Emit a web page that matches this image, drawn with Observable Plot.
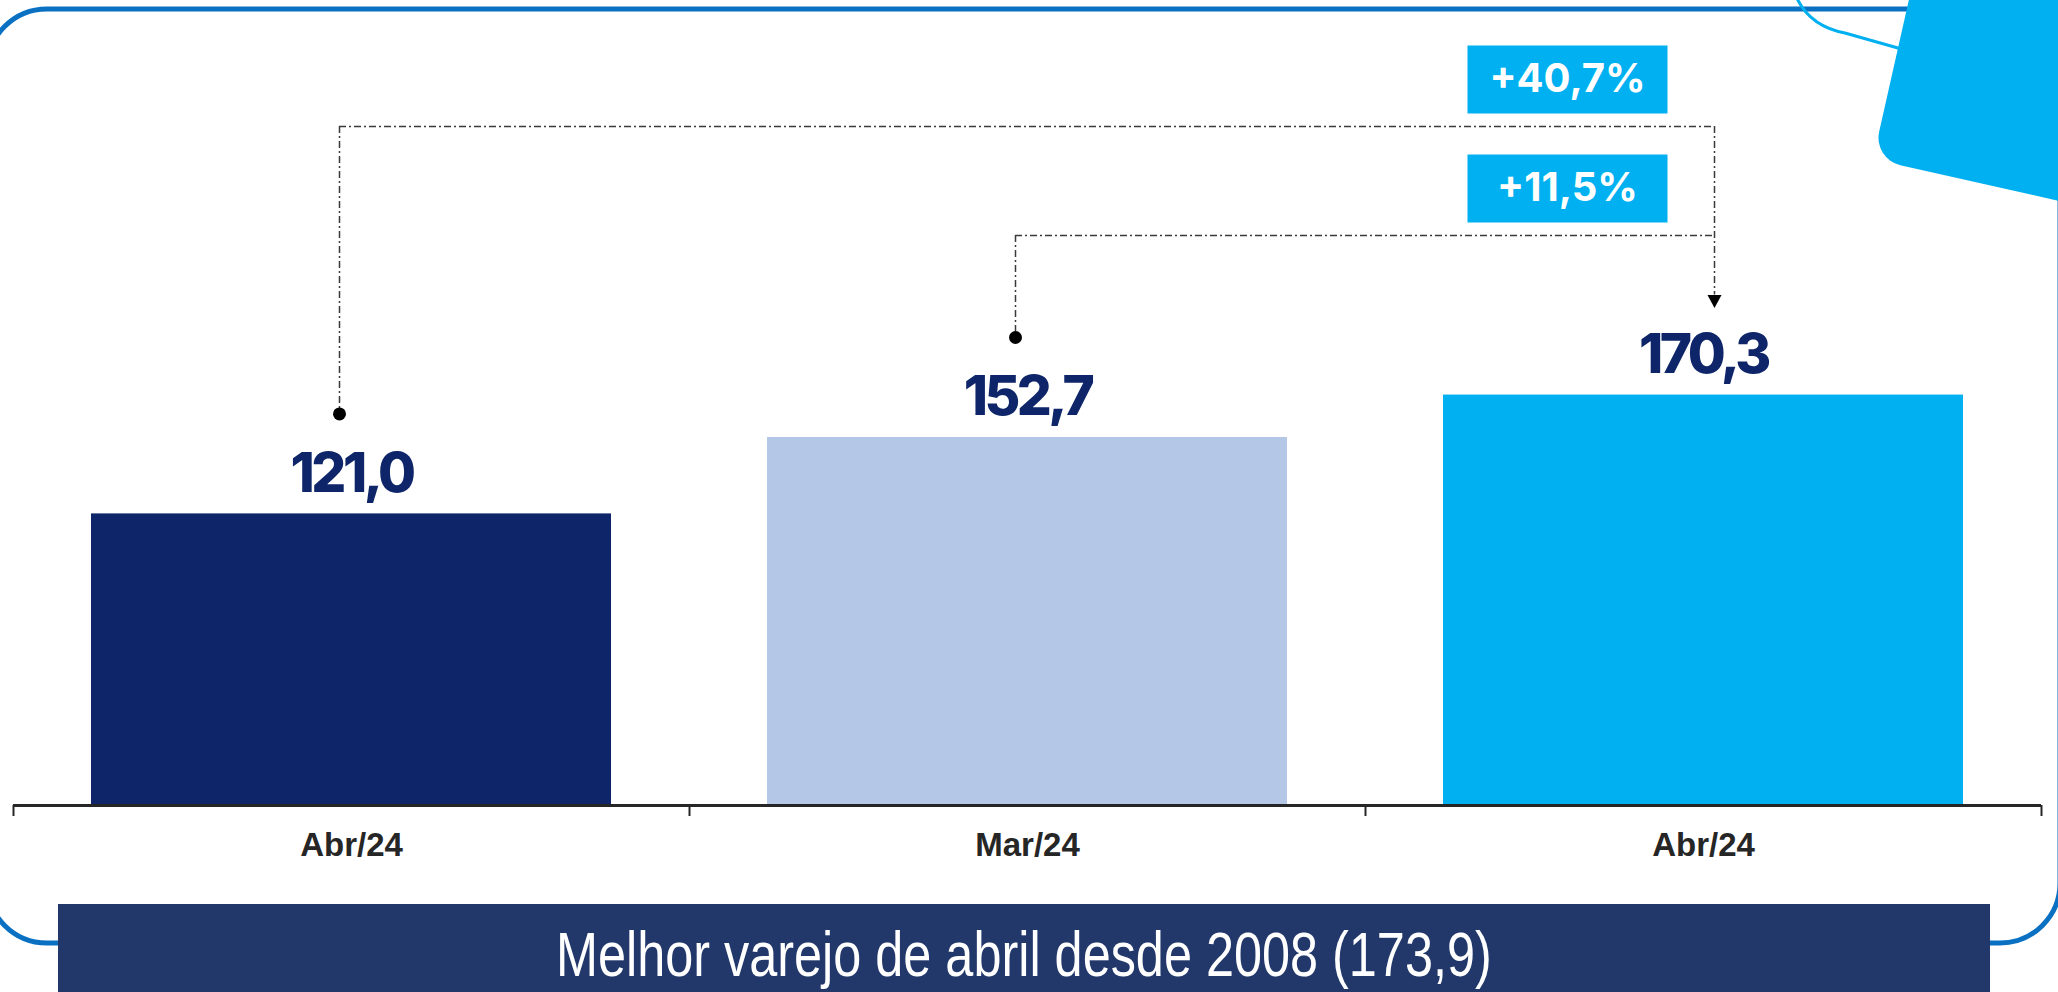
<!DOCTYPE html>
<html><head><meta charset="utf-8">
<script src="https://cdn.jsdelivr.net/npm/d3@7"></script>
<script src="https://cdn.jsdelivr.net/npm/@observablehq/plot@0.6"></script>
<style>
html,body{margin:0;padding:0;background:#fff;}
#page{position:relative;width:2058px;height:992px;overflow:hidden;}
#chart{position:absolute;left:0;top:0;}
#decor{position:absolute;left:0;top:0;pointer-events:none;}
#banner{position:absolute;left:58px;top:904px;width:1932px;height:100px;background:#22386a;color:#fff;
  font-family:"Liberation Sans Narrow","Arial Narrow","Liberation Sans",sans-serif;font-size:63px;
  text-align:center;line-height:88px;padding-top:6px;box-sizing:border-box;white-space:nowrap;}
#banner span{display:inline-block;transform:scaleX(0.8);transform-origin:50% 50%;}
</style></head>
<body>
<div id="page">
  <div id="chart"></div>
  <svg id="decor" width="2058" height="992">
    <rect x="-13" y="9" width="2073" height="934" rx="60" ry="60" fill="none" stroke="#0a70c2" stroke-width="5"/>
    <path d="M1795,-6 Q1808,26 1845,33 L1905,50" fill="none" stroke="#00b0f0" stroke-width="3"/>
    <g transform="translate(1873,159) rotate(12.7)">
      <rect x="0" y="-420" width="420" height="420" rx="28" ry="28" fill="#00b0f0"/>
    </g>
  </svg>
  <div id="banner"><span></span></div>
</div>
<script>
// ---- data ----
const categories = ["Abr/23", "Mar/24", "Abr/24"];
const tickLabels = ["Abr/24", "Mar/24", "Abr/24"];
const values = [121.0, 152.7, 170.3];
const barColors = ["#0e2669", "#b4c7e7", "#00b0f0"];
const comparisons = [{from: 0, to: 2}, {from: 1, to: 2}];
const bannerText = "Melhor varejo de abril desde 2008 (173,9)";

// ---- build ----
const fmt = v => v.toFixed(1).replace(".", ",");
const rows = categories.map((c, i) => ({key: c, label: tickLabels[i], value: values[i], color: barColors[i], i}));
const bracketLevels = [281.7, 236.5]; // layout: bracket heights in y units
const ann = comparisons.map((c, k) => ({
  ...c,
  level: bracketLevels[k],
  label: "+" + fmt((values[c.to] / values[c.from] - 1) * 100) + "%"
}));
const topLevel = d3.max(ann, d => d.level);
const target = [...new Set(ann.map(d => d.to))];

const dash = "7,3,2,3";
const lineColor = "#3a3a3a";
const boxSymbol = {draw(ctx) { ctx.moveTo(-100, -34); ctx.lineTo(100, -34); ctx.lineTo(100, 34); ctx.lineTo(-100, 34); ctx.closePath(); }};
const arrowSymbol = {draw(ctx) { ctx.moveTo(-7, -6.5); ctx.lineTo(7, -6.5); ctx.lineTo(0, 6.5); ctx.closePath(); }};

const valueLabels = Plot.text(rows, {
  x: d => d.i + 0.5, y: "value", text: d => fmt(d.value), dy: -22, lineAnchor: "bottom",
  fontSize: 55, fontWeight: 800, fill: "#0e2669", fontFamily: "Inter, sans-serif"
});

const chart = Plot.plot({
  width: 2058,
  height: 904,
  marginLeft: 13,
  marginRight: 17,
  marginTop: 82,
  marginBottom: 99,
  style: {background: "transparent"},
  x: {type: "linear", domain: [0, categories.length], axis: null},
  y: {domain: [0, 300], axis: null},
  color: {type: "identity"},
  marks: [
    Plot.rectY(rows, {x1: d => d.i, x2: d => d.i + 1, y: "value", fill: "color", insetLeft: 78, insetRight: 78}),
    Plot.ruleY([0], {stroke: "#262626", strokeWidth: 3}),
    Plot.axisX(d3.range(categories.length + 1), {tickSize: 11, tickFormat: () => "", stroke: "#262626", strokeWidth: 2}),
    Plot.axisX(rows.map(d => d.i + 0.5), {
      tickSize: 0, tickPadding: 27, tickFormat: d => tickLabels[Math.floor(d)],
      fontSize: 33, fontWeight: "bold", fill: "#262626", fontFamily: "Liberation Sans, Arial, sans-serif"
    }),
    valueLabels,
    // brackets
    Plot.ruleX(ann, {x: d => d.from + 0.5, y1: "level", y2: d => values[d.from], insetBottom: 100, dx: -12,
      stroke: lineColor, strokeWidth: 1.5, strokeDasharray: dash}),
    Plot.ruleY(ann, {y: "level", x1: d => d.from + 0.5, x2: d => d.to + 0.5, insetLeft: -12, insetRight: -11,
      stroke: lineColor, strokeWidth: 1.5, strokeDasharray: dash}),
    Plot.ruleX(target, {x: d => d + 0.5, y1: () => topLevel, y2: d => values[d], insetBottom: 100, dx: 11,
      stroke: lineColor, strokeWidth: 1.5, strokeDasharray: dash}),
    Plot.dot(ann, {x: d => d.from + 0.5, y: d => values[d.from], dy: -100, dx: -12, r: 6.5, fill: "#000", stroke: "none"}),
    Plot.dot(target, {x: d => d + 0.5, y: d => values[d], dy: -93.5, dx: 11, symbol: arrowSymbol, fill: "#000", stroke: "none"}),
    // percentage boxes
    Plot.dot(ann, {x: d => d.to + 0.5, y: "level", dx: -136, dy: -47, symbol: boxSymbol, fill: "#00b0f0", stroke: "none"}),
    Plot.text(ann, {x: d => d.to + 0.5, y: "level", dx: -136, dy: -47, text: "label",
      fill: "#fff", fontSize: 40, fontWeight: 700, fontFamily: "Inter, sans-serif"})
  ]
});
// tighten the value labels (the original uses a narrower geometric face)
const textGroups = chart.querySelectorAll('g[aria-label="text"]');
if (textGroups.length) textGroups[0].setAttribute("letter-spacing", "-3.5");
document.getElementById("chart").appendChild(chart);
document.querySelector("#banner span").textContent = bannerText;
</script>
</body></html>
